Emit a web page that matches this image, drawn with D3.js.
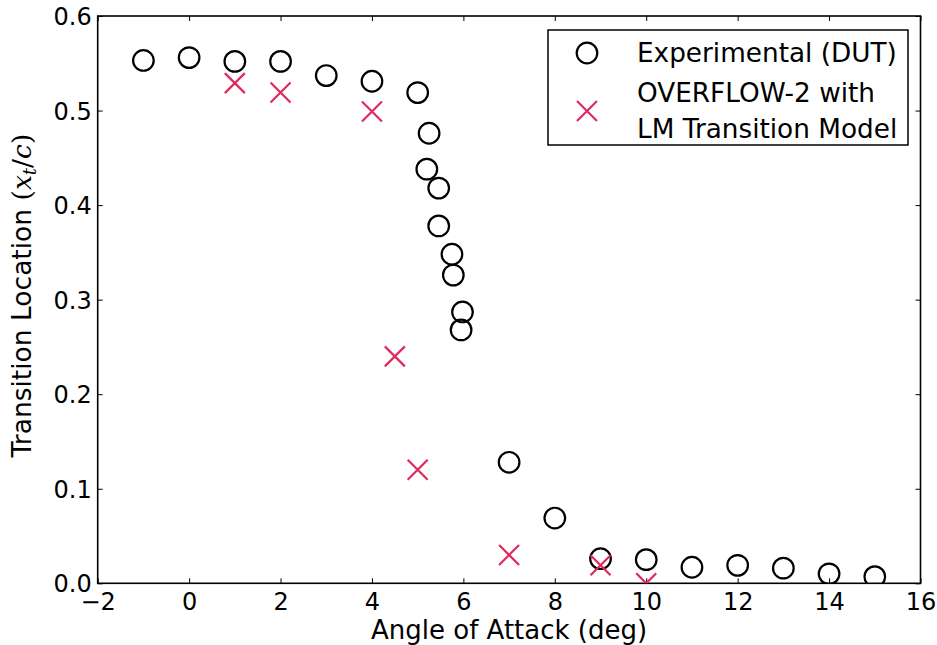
<!DOCTYPE html>
<html>
<head>
<meta charset="utf-8">
<script src="https://cdn.jsdelivr.net/npm/d3@7"></script>
<style>
  html, body { margin: 0; padding: 0; background: #ffffff; }
  svg { display: block; }
  text { font-family: "DejaVu Sans", sans-serif; fill: #000; }
</style>
</head>
<body>
<svg id="chart" width="937" height="645"></svg>
<script>
// Experimental transition locations (DUT wind tunnel)
const expAlpha = [-1, 0, 1, 2, 3, 4, 5, 5.25, 5.2, 5.46, 5.46, 5.75, 5.78, 5.98, 5.95, 7, 8, 9, 10, 11, 12, 13, 14, 15];
const expXt    = [0.553, 0.556, 0.552, 0.552, 0.537, 0.531, 0.519, 0.476, 0.438, 0.418, 0.378, 0.348, 0.326, 0.287, 0.268, 0.128, 0.069, 0.026, 0.025, 0.017, 0.019, 0.016, 0.010, 0.007];

// OVERFLOW-2 predictions with the LM transition model
const ovfAlpha = [1, 2, 4, 4.5, 5, 7, 9, 10];
const ovfXt    = [0.529, 0.519, 0.499, 0.240, 0.120, 0.030, 0.019, 0.0];

const xTicks = [-2, 0, 2, 4, 6, 8, 10, 12, 14, 16];
const yTicks = [0.0, 0.1, 0.2, 0.3, 0.4, 0.5, 0.6];

const legendLabels = [["Experimental (DUT)"], ["OVERFLOW-2 with", "LM Transition Model"]];

const crossColor = "#df2a5f";

const svg = d3.select("#chart");
const W = 937, H = 645;
const m = { left: 97.7, right: W - 920.5, top: 16, bottom: H - 583.3 };
const pw = W - m.left - m.right, ph = H - m.top - m.bottom;

const x = d3.scaleLinear().domain([-2, 16]).range([m.left, m.left + pw]);
const y = d3.scaleLinear().domain([0, 0.6]).range([m.top + ph, m.top]);

svg.append("defs").append("clipPath").attr("id", "plotclip")
  .append("rect").attr("x", m.left).attr("y", m.top).attr("width", pw).attr("height", ph);

// Inward ticks on all four sides
const tickLen = 5;
const fmtY = d3.format(".1f");
const fmtX = d => (d < 0 ? "\u2212" + Math.abs(d) : String(d));

const xb = svg.append("g").attr("transform", `translate(0,${m.top + ph})`)
  .call(d3.axisBottom(x).tickValues(xTicks).tickFormat(fmtX).tickSizeInner(-tickLen).tickSizeOuter(0).tickPadding(0));
const xt = svg.append("g").attr("transform", `translate(0,${m.top})`)
  .call(d3.axisTop(x).tickValues(xTicks).tickFormat("").tickSizeInner(-tickLen).tickSizeOuter(0));
const yl = svg.append("g").attr("transform", `translate(${m.left},0)`)
  .call(d3.axisLeft(y).tickValues(yTicks).tickFormat(fmtY).tickSizeInner(-tickLen).tickSizeOuter(0).tickPadding(0));
const yr = svg.append("g").attr("transform", `translate(${m.left + pw},0)`)
  .call(d3.axisRight(y).tickValues(yTicks).tickFormat("").tickSizeInner(-tickLen).tickSizeOuter(0));

[xb, xt, yl, yr].forEach(g => {
  g.select(".domain").remove();
  g.selectAll(".tick line").attr("stroke", "#000").attr("stroke-width", 1);
});
xb.selectAll(".tick text").attr("font-size", 24).attr("y", 26.5).attr("dy", 0)
  .style("font-family", "DejaVu Sans");
yl.selectAll(".tick text").attr("font-size", 24).attr("x", -6).attr("dy", "0.36em")
  .style("font-family", "DejaVu Sans");

// Plot frame
svg.append("rect").attr("x", m.left).attr("y", m.top).attr("width", pw).attr("height", ph)
  .attr("fill", "none").attr("stroke", "#000").attr("stroke-width", 1.6);

// Markers
const plot = svg.append("g").attr("clip-path", "url(#plotclip)");
const r = 10.3;
const cs = 10; // half-size of the cross

plot.selectAll("circle.exp").data(expAlpha.map((a, i) => [a, expXt[i]])).join("circle")
  .attr("class", "exp")
  .attr("cx", d => x(d[0])).attr("cy", d => y(d[1])).attr("r", r)
  .attr("fill", "none").attr("stroke", "#000").attr("stroke-width", 2.2);

plot.selectAll("path.ovf").data(ovfAlpha.map((a, i) => [a, ovfXt[i]])).join("path")
  .attr("class", "ovf")
  .attr("d", d => {
    const cx = x(d[0]), cy = y(d[1]);
    return `M${cx - cs},${cy - cs}L${cx + cs},${cy + cs}M${cx - cs},${cy + cs}L${cx + cs},${cy - cs}`;
  })
  .attr("fill", "none").attr("stroke", crossColor).attr("stroke-width", 2.2);

// Axis labels
svg.append("text").attr("x", m.left + pw / 2).attr("y", 639).attr("text-anchor", "middle")
  .attr("font-size", 26).text("Angle of Attack (deg)");

const ylab = svg.append("text")
  .attr("transform", `translate(31,${m.top + ph / 2 - 4}) rotate(-90)`)
  .attr("text-anchor", "middle").attr("font-size", 26.5);
ylab.append("tspan").text("Transition Location ");
ylab.append("tspan").style("font-family", "DejaVu Serif").text("(");
ylab.append("tspan").style("font-family", "DejaVu Serif").style("font-style", "italic").text("x");
ylab.append("tspan").style("font-family", "DejaVu Serif").style("font-style", "italic")
  .attr("font-size", 18).attr("dy", 5).text("t");
ylab.append("tspan").style("font-family", "DejaVu Serif").attr("dy", -5).text("/");
ylab.append("tspan").style("font-family", "DejaVu Serif").style("font-style", "italic").text("c");
ylab.append("tspan").style("font-family", "DejaVu Serif").text(")");

// Legend
const lg = svg.append("g");
lg.append("rect").attr("x", 548).attr("y", 30).attr("width", 360).attr("height", 115)
  .attr("fill", "#fff").attr("stroke", "#000").attr("stroke-width", 1.5);
lg.append("circle").attr("cx", 587).attr("cy", 53).attr("r", r)
  .attr("fill", "none").attr("stroke", "#000").attr("stroke-width", 2.2);
lg.append("path")
  .attr("d", `M${587 - cs},${111 - cs}L${587 + cs},${111 + cs}M${587 - cs},${111 + cs}L${587 + cs},${111 - cs}`)
  .attr("fill", "none").attr("stroke", crossColor).attr("stroke-width", 2.2);
lg.append("text").attr("x", 637).attr("y", 62).attr("font-size", 26.3).text(legendLabels[0][0]);
lg.append("text").attr("x", 637).attr("y", 102).attr("font-size", 26.3).text(legendLabels[1][0]);
lg.append("text").attr("x", 637).attr("y", 138).attr("font-size", 26.3).text(legendLabels[1][1]);
</script>
</body>
</html>
